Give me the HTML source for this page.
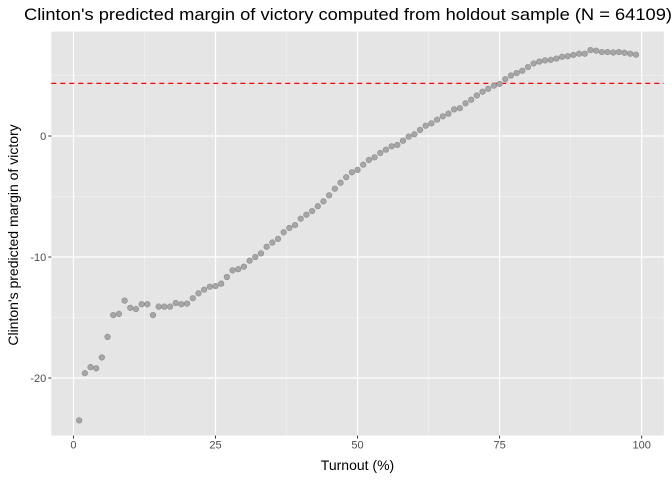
<!DOCTYPE html>
<html><head><meta charset="utf-8"><style>
body{margin:0;background:#fff;font-family:"Liberation Sans",sans-serif;}
svg text{font-family:"Liberation Sans",sans-serif;}
</style></head><body>
<svg id="chart" width="672" height="480" xmlns="http://www.w3.org/2000/svg">
<text x="24" y="20" font-size="16.5" fill="#000" textLength="648" lengthAdjust="spacingAndGlyphs">Clinton's predicted margin of victory computed from holdout sample (N = 64109)</text>
<rect x="51.3" y="31.6" width="612.5" height="404" fill="#e5e5e5"/>
<g id="grid"></g>
<line id="ref" stroke="#ff0000" stroke-width="1.3" stroke-dasharray="5,4"/>
<g id="pts"></g>
<g id="axes"></g>
<text x="357.5" y="470" font-size="14" text-anchor="middle">Turnout (%)</text>
<text transform="translate(18,235) rotate(-90)" font-size="14" text-anchor="middle">Clinton's predicted margin of victory</text>
</svg>
<script>
const turnout = Array.from({length:99},(_, i)=>i+1);
const margin = [-23.5,-19.6,-19.1,-19.2,-18.3,-16.6,-14.8,-14.7,-13.6,-14.2,-14.3,-13.9,-13.9,-14.8,-14.1,-14.1,-14.1,-13.8,-13.9,-13.85,-13.4,-13.0,-12.7,-12.45,-12.4,-12.2,-11.65,-11.1,-11.0,-10.8,-10.3,-10.0,-9.7,-9.15,-8.8,-8.5,-7.96,-7.6,-7.36,-6.83,-6.5,-6.2,-5.8,-5.4,-4.9,-4.35,-3.86,-3.4,-3.0,-2.8,-2.37,-1.98,-1.76,-1.4,-1.13,-0.85,-0.74,-0.39,-0.05,0.14,0.5,0.85,1.05,1.35,1.63,1.85,2.2,2.3,2.7,3.0,3.35,3.66,3.9,4.16,4.3,4.7,5.0,5.2,5.4,5.7,6.0,6.15,6.25,6.3,6.4,6.55,6.6,6.7,6.8,6.8,7.1,7.05,6.94,6.94,6.9,6.94,6.88,6.8,6.72];
const refValue = 4.35;
const xTicks = [0,25,50,75,100];
const xMinor = [12.5,37.5,62.5,87.5];
const yTicks = [-20,-10,0];
const yMinor = [-15,-5,5];
const NS="http://www.w3.org/2000/svg";
const L=51.3,R=663.8,T=31.6,B=438.9,PB=435.6;
const xmin=-3.9,xmax=103.9,ymin=-25.03,ymax=8.63;
const sx=v=>L+(v-xmin)/(xmax-xmin)*(R-L);
const sy=v=>B-(v-ymin)/(ymax-ymin)*(B-T);
function mk(tag,attrs,parent){const e=document.createElementNS(NS,tag);for(const k in attrs)e.setAttribute(k,attrs[k]);parent.appendChild(e);return e;}
const grid=document.getElementById('grid'),axes=document.getElementById('axes'),pts=document.getElementById('pts');
yMinor.forEach(v=>{const e=mk('line',{x1:L,x2:R,y1:sy(v),y2:sy(v),stroke:'#f2f2f2','stroke-width':0.6},grid);

});
xMinor.forEach(v=>{const e=mk('line',{x1:sx(v),x2:sx(v),y1:T,y2:PB,stroke:'#f2f2f2','stroke-width':0.6},grid);

});
yTicks.forEach(v=>{const e=mk('line',{x1:L,x2:R,y1:sy(v),y2:sy(v),stroke:'#fff','stroke-width':1.2},grid);


const t=mk('line',{x1:L-3,x2:L,y1:sy(v),y2:sy(v),stroke:'#333'},axes);


const tx=mk('text',{x:L-5,y:sy(v)+4,'font-size':11,'text-anchor':'end',fill:'#4d4d4d'},axes);tx.textContent=v;

});
xTicks.forEach(v=>{const e=mk('line',{x1:sx(v),x2:sx(v),y1:T,y2:PB,stroke:'#fff','stroke-width':1.2},grid);


const t=mk('line',{x1:sx(v),x2:sx(v),y1:PB,y2:PB+3,stroke:'#333'},axes);


const tx=mk('text',{x:sx(v),y:PB+13,'font-size':11,'text-anchor':'middle',fill:'#4d4d4d'},axes);tx.textContent=v;

});
const ref=document.getElementById('ref');
ref.setAttribute('x1',L);ref.setAttribute('x2',R);ref.setAttribute('y1',sy(refValue));ref.setAttribute('y2',sy(refValue));
turnout.forEach((x,i)=>{const c=mk('circle',{cx:sx(x),cy:sy(margin[i]),r:2.8,fill:'#a6a6a6',stroke:'#8c8c8c','stroke-width':0.6},pts);

});
</script>
</body></html>
